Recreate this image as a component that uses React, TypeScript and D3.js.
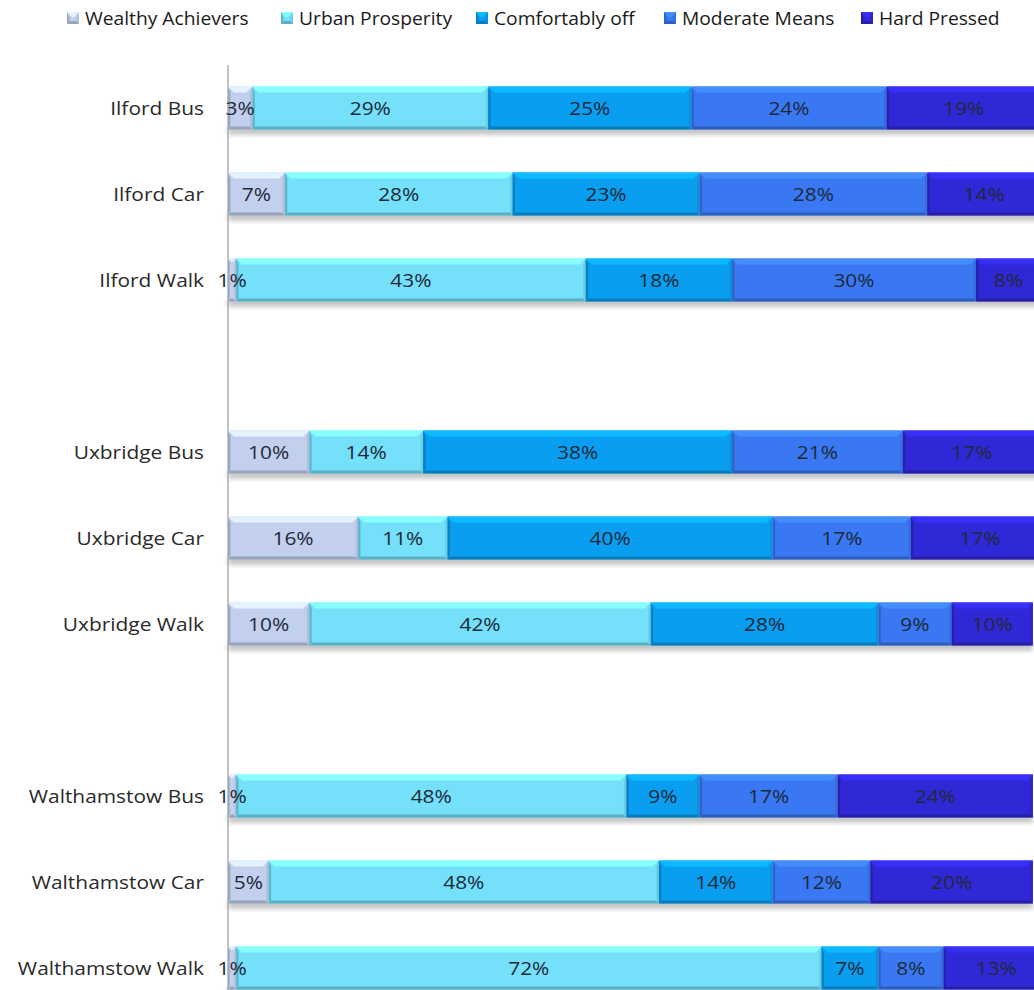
import React from "react";
import * as d3 from "d3";

// Rows of the chart, grouped by town (a blank row separates the groups)
const categories = [
  "Ilford Bus", "Ilford Car", "Ilford Walk",
  "Uxbridge Bus", "Uxbridge Car", "Uxbridge Walk",
  "Walthamstow Bus", "Walthamstow Car", "Walthamstow Walk",
];

const seriesNames = ["Wealthy Achievers", "Urban Prosperity", "Comfortably off", "Moderate Means", "Hard Pressed"];

// Share of each segment (%) per row
const wealthyAchievers = [3, 7, 1, 10, 16, 10, 1, 5, 1];
const urbanProsperity = [29, 28, 43, 14, 11, 42, 48, 48, 72];
const comfortablyOff = [25, 23, 18, 38, 40, 28, 9, 14, 7];
const moderateMeans = [24, 28, 30, 21, 17, 9, 17, 12, 8];
const hardPressed = [19, 14, 8, 17, 17, 10, 24, 20, 13];

const seriesColors = ["#c2d0ee", "#74e0fa", "#0a9ef0", "#3a78f3", "#3028d6"];

const W = 1034;
const H = 990;
const FONT = "'Open Sans', Lato, sans-serif";
// the typeface is drawn slightly wide
const STRETCH = 1.1;

function Segment({ x0, x1, y0, h, color }: { x0: number; x1: number; y0: number; h: number; color: string }) {
  const y1 = y0 + h;
  const w = x1 - x0;
  const b = Math.min(6, w / 2);
  const c = d3.color(color)!;
  const light = c.brighter(0.45).formatHex();
  const dark = c.darker(0.45).formatHex();
  const darker = c.darker(0.9).formatHex();
  return (
    <g>
      <rect x={x0} y={y0} width={w} height={h} fill={color} />
      <polygon points={`${x0},${y0} ${x1},${y0} ${x1 - b},${y0 + b} ${x0 + b},${y0 + b}`} fill={light} />
      <polygon points={`${x0},${y0} ${x0 + b * 0.4},${y0 + b} ${x0 + b * 0.4},${y1 - 3} ${x0},${y1}`} fill={darker} opacity={0.7} />
      <polygon points={`${x1},${y0} ${x1 - b * 0.4},${y0 + b} ${x1 - b * 0.4},${y1 - 3} ${x1},${y1}`} fill={dark} opacity={0.6} />
      <polygon points={`${x0},${y1} ${x1},${y1} ${x1 - 3},${y1 - 3} ${x0 + 3},${y1 - 3}`} fill={darker} opacity={0.8} />
    </g>
  );
}

function WideText({ x, y, anchor, size, fill, children }:
  { x: number; y: number; anchor?: string; size: number; fill: string; children: React.ReactNode }) {
  return (
    <text transform={`translate(${x},${y}) scale(${STRETCH},1)`} textAnchor={anchor ?? "start"} fontSize={size} fill={fill}>
      {children}
    </text>
  );
}

export default function App() {
  const series = [wealthyAchievers, urbanProsperity, comfortablyOff, moderateMeans, hardPressed];

  // Insert blank spacer rows between the town groups
  const rows: string[] = [];
  categories.forEach((c, i) => {
    if (i > 0 && i % 3 === 0) rows.push(`__gap${i}`);
    rows.push(c);
  });

  const x = d3.scaleLinear().domain([0, 100]).range([228, 1041]);
  const y = d3.scaleBand<string>().domain(rows).range([65, 65 + rows.length * 86]).paddingInner(0.5).paddingOuter(0.25);

  const table = categories.map((name, i) => {
    const vals = series.map((s) => s[i]);
    let acc = 0;
    const segs = vals.map((v, k) => {
      const s = { k, v, a: acc, b: acc + v };
      acc += v;
      return s;
    });
    return { name, segs };
  });

  const legendX = [67, 281, 476, 664, 861];

  return (
    <svg width={W} height={H} style={{ position: "absolute", left: 0, top: 0, background: "#fff" }} fontFamily={FONT}>
      <defs>
        <filter id="shadow" x="-5%" y="-50%" width="110%" height="200%">
          <feGaussianBlur stdDeviation="2.5" />
        </filter>
      </defs>

      {/* legend */}
      {seriesNames.map((n, k) => (
        <g key={n} transform={`translate(${legendX[k]},12)`}>
          <Segment x0={0} x1={12} y0={0} h={12} color={seriesColors[k]} />
          <WideText x={18} y={12.5} size={17.5} fill="#1a1a1a">{n}</WideText>
        </g>
      ))}

      {/* bar shadows */}
      {table.map((r) => {
        const y0 = y(r.name)!;
        const last = r.segs[r.segs.length - 1];
        return (
          <rect key={`s-${r.name}`} x={x(0)} y={y0 + y.bandwidth() - 2} width={x(last.b) - x(0)} height={7}
            fill="#8a8a8a" opacity={0.55} filter="url(#shadow)" />
        );
      })}

      {/* axis line */}
      <line x1={x(0)} x2={x(0)} y1={65} y2={H} stroke="#9a9a9a" strokeWidth={1.2} />

      {/* bars */}
      {table.map((r) => {
        const y0 = y(r.name)!;
        const cy = y0 + y.bandwidth() / 2 + 7;
        return (
          <g key={r.name}>
            {r.segs.map((s) => (
              <Segment key={s.k} x0={x(s.a)} x1={x(s.b)} y0={y0} h={y.bandwidth()} color={seriesColors[s.k]} />
            ))}
            {r.segs.map((s) => (
              <WideText key={`t${s.k}`} x={(x(s.a) + x(s.b)) / 2} y={cy} anchor="middle" size={19} fill="#1d2a3a">
                {`${s.v}%`}
              </WideText>
            ))}
            <WideText x={204} y={cy} anchor="end" size={19} fill="#2a2a2a">{r.name}</WideText>
          </g>
        );
      })}
    </svg>
  );
}
